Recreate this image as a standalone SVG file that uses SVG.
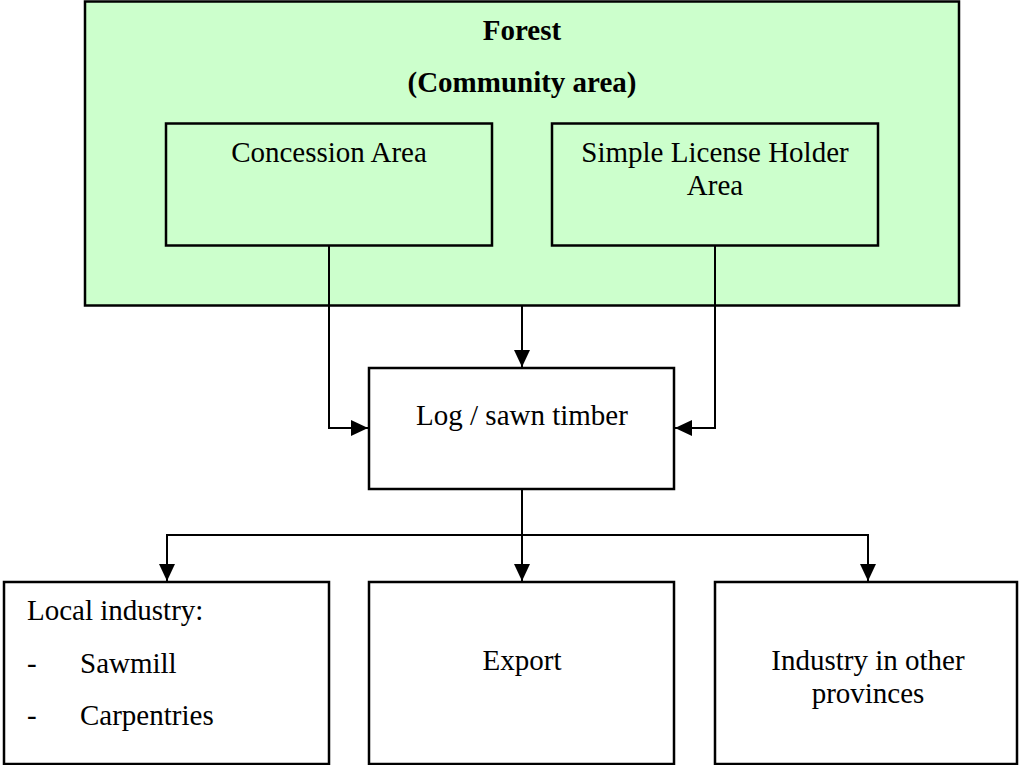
<svg xmlns="http://www.w3.org/2000/svg" width="1019" height="765" viewBox="0 0 1019 765">
  <style>
    .box { fill: #ffffff; stroke: #000000; stroke-width: 2.5; }
    .green { fill: #ccffcc; stroke: #000000; stroke-width: 2.5; }
    .t { font-family: "Liberation Serif", "Times New Roman", serif; font-size: 29px; fill: #000000; }
    .c { text-anchor: middle; }
    .b { font-weight: bold; }
    .wire { fill: none; stroke: #000000; stroke-width: 2; }
  </style>
  <defs>
    <marker id="arrow" viewBox="0 0 17 16" refX="17" refY="8" markerWidth="17" markerHeight="16" markerUnits="userSpaceOnUse" orient="auto">
      <path d="M0,0 L17,8 L0,16 Z" fill="#000000"/>
    </marker>
  </defs>

  <rect width="1019" height="765" fill="#ffffff"/>

  <g id="forest">
    <rect class="green" x="85" y="1.5" width="874" height="304"/>
    <text class="t c b" x="522" y="40">Forest</text>
    <text class="t c b" x="522" y="92">(Community area)</text>
  </g>

  <g id="concession">
    <rect class="green" x="166" y="123.5" width="326" height="122"/>
    <text class="t c" x="329" y="162">Concession Area</text>
  </g>

  <g id="license">
    <rect class="green" x="552" y="123.5" width="326" height="122"/>
    <text class="t c" x="715" y="162">Simple License Holder</text>
    <text class="t c" x="715" y="195">Area</text>
  </g>

  <g id="timber">
    <rect class="box" x="369" y="368" width="305" height="121"/>
    <text class="t c" x="522" y="425">Log / sawn timber</text>
  </g>

  <g id="local">
    <rect class="box" x="4" y="582" width="325" height="182"/>
    <text class="t" x="27" y="620">Local industry:</text>
    <text class="t" x="27" y="673">-</text>
    <text class="t" x="80" y="673">Sawmill</text>
    <text class="t" x="27" y="725">-</text>
    <text class="t" x="80" y="725">Carpentries</text>
  </g>

  <g id="export">
    <rect class="box" x="369" y="582" width="305" height="182"/>
    <text class="t c" x="522" y="670">Export</text>
  </g>

  <g id="provinces">
    <rect class="box" x="715" y="582" width="302" height="182"/>
    <text class="t c" x="868" y="670">Industry in other</text>
    <text class="t c" x="868" y="703">provinces</text>
  </g>

  <g id="connectors">
    <path class="wire" d="M329,246 V428 H368" marker-end="url(#arrow)"/>
    <path class="wire" d="M715,246 V428 H675" marker-end="url(#arrow)"/>
    <path class="wire" d="M522,306 V367" marker-end="url(#arrow)"/>
    <path class="wire" d="M522,489 V581" marker-end="url(#arrow)"/>
    <path class="wire" d="M522,535 H167 V581" marker-end="url(#arrow)"/>
    <path class="wire" d="M522,535 H868 V581" marker-end="url(#arrow)"/>
  </g>
</svg>
